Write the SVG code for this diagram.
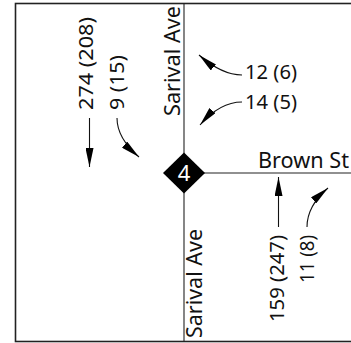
<svg xmlns="http://www.w3.org/2000/svg" width="351" height="343" viewBox="0 0 351 343">
  <style>
    .frame { fill: none; stroke: #222; stroke-width: 1.6; }
    .street { fill: none; stroke: #222; stroke-width: 1.1; }
    .lbl { font-family: "Noto Sans", "Open Sans", sans-serif; fill: #111; }
    .street-name { font-size: 21px; }
    .vol { font-size: 20px; }
    .move { fill: none; stroke: #111; stroke-width: 1.1; marker-end: url(#head); }
    .node-id { font-family: "Noto Sans", sans-serif; font-size: 22px; fill: #fff; text-anchor: middle; }
  </style>
  <defs>
    <marker id="head" viewBox="0 0 19 8" refX="19" refY="4" markerWidth="19" markerHeight="8" markerUnits="userSpaceOnUse" orient="auto">
      <path d="M0,0 L19,4 L0,8 Z" fill="#000"/>
    </marker>
  </defs>

  <!-- outer frame -->
  <rect class="frame" x="15.5" y="3.5" width="345" height="338"/>

  <!-- street centre lines -->
  <g id="streets">
    <line class="street" x1="184" y1="3.5" x2="184" y2="341.5"/>
    <line class="street" x1="184" y1="173" x2="351" y2="173"/>
  </g>

  <!-- street names -->
  <g id="street-names" class="lbl street-name">
    <text transform="translate(180,116) rotate(-90)" textLength="110" lengthAdjust="spacingAndGlyphs">Sarival Ave</text>
    <text transform="translate(202,338) rotate(-90)" textLength="109" lengthAdjust="spacingAndGlyphs">Sarival Ave</text>
    <text x="258" y="168" textLength="91" lengthAdjust="spacingAndGlyphs">Brown St</text>
  </g>

  <!-- intersection 4 -->
  <g id="intersection-4">
    <polygon points="184,152.5 205,173 184,193.5 163,173" fill="#000"/>
    <text class="node-id" x="184" y="181">4</text>
  </g>

  <!-- turning movement volumes -->
  <g id="volumes" class="lbl vol">
    <text transform="translate(93,110) rotate(-90)" textLength="93" lengthAdjust="spacingAndGlyphs">274 (208)</text>
    <text transform="translate(124,110) rotate(-90)" textLength="55" lengthAdjust="spacingAndGlyphs">9 (15)</text>
    <text x="245" y="79" textLength="52" lengthAdjust="spacingAndGlyphs">12 (6)</text>
    <text x="245" y="109" textLength="52" lengthAdjust="spacingAndGlyphs">14 (5)</text>
    <text transform="translate(284,322) rotate(-90)" textLength="87" lengthAdjust="spacingAndGlyphs">159 (247)</text>
    <text transform="translate(314,283) rotate(-90)" textLength="48" lengthAdjust="spacingAndGlyphs">11 (8)</text>
  </g>

  <!-- movement arrows -->
  <g id="connectors">
    <path class="move" d="M89.5,118 V167"/>
    <path class="move" d="M117,118 C117,132 125,145 139,157"/>
    <path class="move" d="M242,75 C227,75 214,68 199,55"/>
    <path class="move" d="M242,102 C227,102 213,110 200,125"/>
    <path class="move" d="M278.5,227 V177"/>
    <path class="move" d="M307,227 C307,212 314,200 328,188"/>
  </g>
</svg>
